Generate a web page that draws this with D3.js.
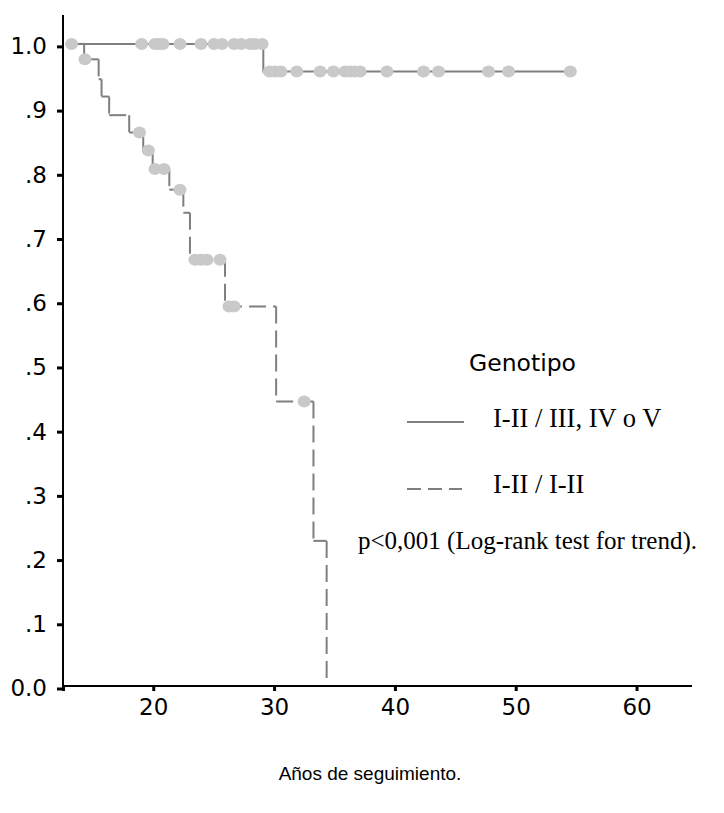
<!DOCTYPE html>
<html>
<head>
<meta charset="utf-8">
<script src="https://cdn.jsdelivr.net/npm/d3@7"></script>
<style>
  html, body { margin: 0; padding: 0; background: #fff; }
  svg { display: block; }
</style>
</head>
<body>
<svg id="chart" width="724" height="813"></svg>
<script>
// ---------- DATA ----------
// Group 1: I-II / III, IV o V (solid)
const solidStart = 13.1;
const solidEventTimes = [29.11];
const solidSurvival = [0.957];
const solidEnd = 54.52;
const solidCensorTimes = [13.24, 19.04, 20.14, 20.47, 20.80, 22.21, 23.95, 25.03, 25.69, 26.69, 27.27, 28.01, 28.43, 29.01,
  29.61, 30.08, 30.56, 31.88, 33.81, 34.91, 35.88, 36.29, 36.70, 37.12, 39.34, 42.37, 43.61, 47.75, 49.41, 54.52];

// Group 2: I-II / I-II (dashed)
const dashedStart = 13.1;
const dashedEventTimes = [14.28, 15.48, 15.72, 16.35, 18.01, 19.17, 19.95, 21.33, 22.49, 23.04, 25.94, 30.17, 33.26, 34.35];
const dashedSurvival  = [0.976, 0.945, 0.918, 0.889, 0.862, 0.834, 0.805, 0.773, 0.737, 0.664, 0.591, 0.443, 0.226, 0.0];
const dashedCensorTimes = [14.35, 18.86, 19.59, 20.14, 20.89, 22.21, 23.45, 23.95, 24.45, 25.53, 26.27, 26.69, 32.49];

const xTicks = [20, 30, 40, 50, 60];
const yTicks = [0, 0.1, 0.2, 0.3, 0.4, 0.5, 0.6, 0.7, 0.8, 0.9, 1.0];
const yTickLabels = ["0.0", ".1", ".2", ".3", ".4", ".5", ".6", ".7", ".8", ".9", "1.0"];

const legendTitle = "Genotipo";
const legendLabels = ["I-II / III, IV o V", "I-II / I-II"];
const pText = "p<0,001 (Log-rank test for trend).";
const xTitle = "Años de seguimiento.";

// ---------- SETUP ----------
const svg = d3.select("#chart");
const x = d3.scaleLinear().domain([12.53, 64.59]).range([63, 692]);
const y = d3.scaleLinear().domain([0, 1.045]).range([686, 15]);

const lineColor = "#7f7f7f";
const censorColor = "#c9c9c9";
const sans = "'DejaVu Sans', sans-serif";
const sans2 = "'Liberation Sans', Arial, sans-serif";
const serif = "'Liberation Serif', 'Times New Roman', serif";

// step function helpers
function stepPoints(start, times, surv, end) {
  const pts = [[start, 1.0]];
  let cur = 1.0;
  times.forEach((t, i) => { pts.push([t, cur]); pts.push([t, surv[i]]); cur = surv[i]; });
  if (end !== undefined && end > times[times.length - 1]) pts.push([end, cur]);
  return pts;
}
function survAt(t, times, surv) {
  let s = 1.0;
  times.forEach((et, i) => { if (et <= t) s = surv[i]; });
  return s;
}

const lineGen = d3.line().x(d => x(d[0])).y(d => y(d[1]));

// ---------- CURVES ----------
const gCurves = svg.append("g");

// dashed: each segment dashed individually
const dPts = stepPoints(dashedStart, dashedEventTimes, dashedSurvival);
for (let i = 0; i < dPts.length - 1; i++) {
  gCurves.append("path")
    .attr("d", lineGen([dPts[i], dPts[i + 1]]))
    .attr("fill", "none")
    .attr("stroke", lineColor)
    .attr("stroke-width", 2)
    .attr("stroke-dasharray", "17,7");
}

// solid
const sPts = stepPoints(solidStart, solidEventTimes, solidSurvival, solidEnd);
gCurves.append("path")
  .attr("d", lineGen(sPts))
  .attr("fill", "none")
  .attr("stroke", lineColor)
  .attr("stroke-width", 2);

// censor marks
const gCens = svg.append("g");
function drawCensors(times, evTimes, surv) {
  gCens.selectAll(null).data(times).enter().append("ellipse")
    .attr("cx", t => x(t))
    .attr("cy", t => y(survAt(t, evTimes, surv)))
    .attr("rx", 6.5).attr("ry", 6)
    .attr("fill", censorColor);
}
drawCensors(solidCensorTimes, solidEventTimes, solidSurvival);
drawCensors(dashedCensorTimes, dashedEventTimes, dashedSurvival);

// ---------- AXES ----------
const yAxis = d3.axisLeft(y).tickValues(yTicks).tickSize(6).tickPadding(10)
  .tickFormat((d, i) => yTickLabels[i]);
const gy = svg.append("g").attr("transform", "translate(63,0)").call(yAxis);
gy.select(".domain").remove();
gy.selectAll(".tick").attr("transform", d => `translate(0,${y(d) + 3})`);
gy.selectAll(".tick line").attr("stroke", "#000").attr("stroke-width", 3);
gy.selectAll(".tick text").attr("font-family", sans).attr("font-size", 23).attr("fill", "#000");
svg.append("line").attr("x1", 63).attr("x2", 63).attr("y1", y(1.045)).attr("y2", y(0) + 1)
  .attr("stroke", "#000").attr("stroke-width", 2);

const xAxis = d3.axisBottom(x).tickValues([x.domain()[0]].concat(xTicks)).tickSize(5).tickPadding(8)
  .tickFormat(d => xTicks.includes(d) ? String(d) : "");
const gx = svg.append("g").attr("transform", `translate(0,${y(0)})`).call(xAxis);
gx.select(".domain").remove();
gx.selectAll(".tick line").attr("stroke", "#000").attr("stroke-width", 3);
gx.selectAll(".tick text").attr("font-family", sans).attr("font-size", 23).attr("fill", "#000");
svg.append("line").attr("x1", 63).attr("x2", 692).attr("y1", y(0)).attr("y2", y(0))
  .attr("stroke", "#000").attr("stroke-width", 2);

// ---------- LEGEND ----------
svg.append("text").attr("x", 469).attr("y", 371).text(legendTitle)
  .attr("font-family", sans).attr("font-size", 23.5).attr("fill", "#000");
svg.append("line").attr("x1", 407).attr("x2", 464).attr("y1", 422).attr("y2", 422)
  .attr("stroke", lineColor).attr("stroke-width", 2);
svg.append("text").attr("x", 493).attr("y", 427).text(legendLabels[0])
  .attr("font-family", serif).attr("font-size", 26.5).attr("fill", "#000");
svg.append("line").attr("x1", 407).attr("x2", 462).attr("y1", 489).attr("y2", 489)
  .attr("stroke", lineColor).attr("stroke-width", 2).attr("stroke-dasharray", "14,7");
svg.append("text").attr("x", 493).attr("y", 493).text(legendLabels[1])
  .attr("font-family", serif).attr("font-size", 26.5).attr("fill", "#000");
svg.append("text").attr("x", 358).attr("y", 549).text(pText)
  .attr("font-family", serif).attr("font-size", 25).attr("fill", "#000");

// ---------- X TITLE ----------
svg.append("text").attr("x", 370).attr("y", 780).attr("text-anchor", "middle").text(xTitle)
  .attr("font-family", sans2).attr("font-size", 19).attr("fill", "#000");
</script>
</body>
</html>
